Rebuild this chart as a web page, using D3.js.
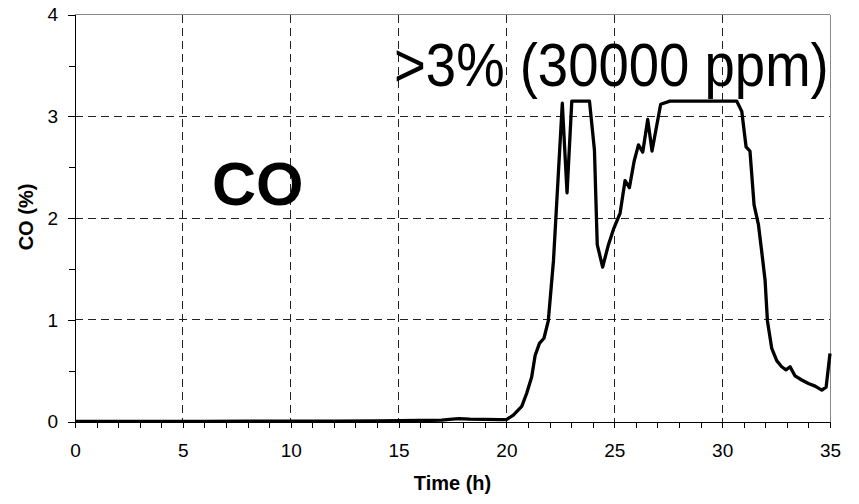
<!DOCTYPE html>
<html><head><meta charset="utf-8">
<script src="https://cdn.jsdelivr.net/npm/d3@7"></script>
<style>body{margin:0;background:#fff}svg{display:block}text{font-family:"Liberation Sans",Arial,sans-serif}</style>
</head><body><svg id="c" width="859" height="504"></svg>
<script>
const timeH = [0,2,4,6,8,10,12,14,15,16,17,17.5,17.8,18.3,19,19.7,20,20.32,20.71,20.94,21.17,21.33,21.53,21.74,21.94,22.05,22.18,22.59,22.81,23.03,23.85,24.08,24.21,24.46,24.73,24.96,25.27,25.5,25.7,25.92,26.12,26.32,26.55,26.75,27.15,27.58,30.68,30.91,31.11,31.29,31.48,31.68,31.83,31.99,32.1,32.3,32.53,32.76,32.96,33.15,33.38,33.69,34.0,34.31,34.62,34.82,35];
const coPct = [0.003,0.003,0.004,0.004,0.005,0.005,0.006,0.008,0.01,0.012,0.015,0.025,0.03,0.025,0.022,0.02,0.02,0.065,0.15,0.28,0.44,0.65,0.77,0.82,0.99,1.26,1.58,3.13,2.25,3.15,3.15,2.67,1.74,1.52,1.74,1.89,2.05,2.37,2.30,2.56,2.72,2.65,2.97,2.66,3.12,3.15,3.15,3.05,2.70,2.66,2.13,1.94,1.68,1.39,0.99,0.72,0.60,0.54,0.51,0.54,0.45,0.41,0.375,0.35,0.31,0.34,0.67];
const xTicks = [0,5,10,15,20,25,30,35];
const xMinor = d3.range(0,36,1);
const yTicks = [0,1,2,3,4];
const yMinor = [0,0.5,1,1.5,2,2.5,3,3.5,4];
const xTitle = "Time (h)";
const yTitle = "CO (%)";
const label1 = "CO";
const label2 = ">3% (30000 ppm)";

const svg = d3.select("#c");
const x = d3.scaleLinear().domain([0,35]).range([75,830]);
const y = d3.scaleLinear().domain([0,4]).range([421.7,14.7]);

// grid
svg.append("g").selectAll("line").data(xTicks.slice(1,-1)).join("line")
  .attr("x1",d=>x(d)).attr("x2",d=>x(d)).attr("y1",y(4)).attr("y2",y(0))
  .attr("stroke","#222").attr("stroke-width",1).attr("stroke-dasharray","8,5").attr("shape-rendering","crispEdges");
svg.append("g").selectAll("line").data(yTicks.slice(1,-1)).join("line")
  .attr("x1",x(0)).attr("x2",x(35)).attr("y1",d=>y(d)).attr("y2",d=>y(d))
  .attr("stroke","#222").attr("stroke-width",1).attr("stroke-dasharray","8,5").attr("shape-rendering","crispEdges");
// frame top/right
svg.append("line").attr("x1",x(0)).attr("x2",x(35)).attr("y1",y(4)).attr("y2",y(4)).attr("stroke","#888").attr("shape-rendering","crispEdges");
svg.append("line").attr("x1",x(35)).attr("x2",x(35)).attr("y1",y(4)).attr("y2",y(0)).attr("stroke","#888").attr("shape-rendering","crispEdges");

// axes
const xAxisMinor = d3.axisBottom(x).tickValues(xMinor).tickSize(6).tickFormat("");
const gxm = svg.append("g").attr("transform",`translate(0,${y(0)})`).call(xAxisMinor);
const xAxis = d3.axisBottom(x).tickValues(xTicks).tickSize(6).tickPadding(16).tickFormat(d3.format("d"));
const gx = svg.append("g").attr("transform",`translate(0,${y(0)})`).call(xAxis);
const yAxisMinor = d3.axisLeft(y).tickValues(yMinor).tickSize(6).tickFormat("");
const gym = svg.append("g").attr("transform",`translate(${x(0)},0)`).call(yAxisMinor);
const yAxis = d3.axisLeft(y).tickValues(yTicks).tickSize(7).tickPadding(10).tickFormat(d3.format("d"));
const gy = svg.append("g").attr("transform",`translate(${x(0)},0)`).call(yAxis);
[gx,gxm,gy,gym].forEach(g=>{
  g.selectAll("path.domain").attr("stroke","#000").attr("shape-rendering","crispEdges");
  g.selectAll(".tick line").attr("stroke","#000").attr("shape-rendering","crispEdges");
  g.selectAll("text").attr("font-family","'Liberation Sans',Arial,sans-serif").attr("font-size",19).attr("fill","#000");
});
gx.selectAll("path.domain").remove();
gy.selectAll("path.domain").remove();

// data line
const line = d3.line().x((d,i)=>x(timeH[i])).y(d=>y(d));
svg.append("path").datum(coPct).attr("d",line).attr("fill","none").attr("stroke","#000")
  .attr("stroke-width",3.3).attr("stroke-linejoin","round");

// titles
svg.append("text").attr("x",(x(0)+x(35))/2).attr("y",490).attr("text-anchor","middle")
  .attr("font-size",20).attr("font-weight","bold").text(xTitle);
svg.append("text").attr("transform",`translate(33,${217}) rotate(-90)`).attr("text-anchor","middle")
  .attr("font-size",20).attr("font-weight","bold").text(yTitle);

// annotations
svg.append("text").attr("x",212).attr("y",205).attr("font-size",61).attr("font-weight","bold").text(label1);
svg.append("text").attr("transform","translate(394,86) scale(1,1.13)").attr("font-size",54.5).text(label2);
</script></body></html>
